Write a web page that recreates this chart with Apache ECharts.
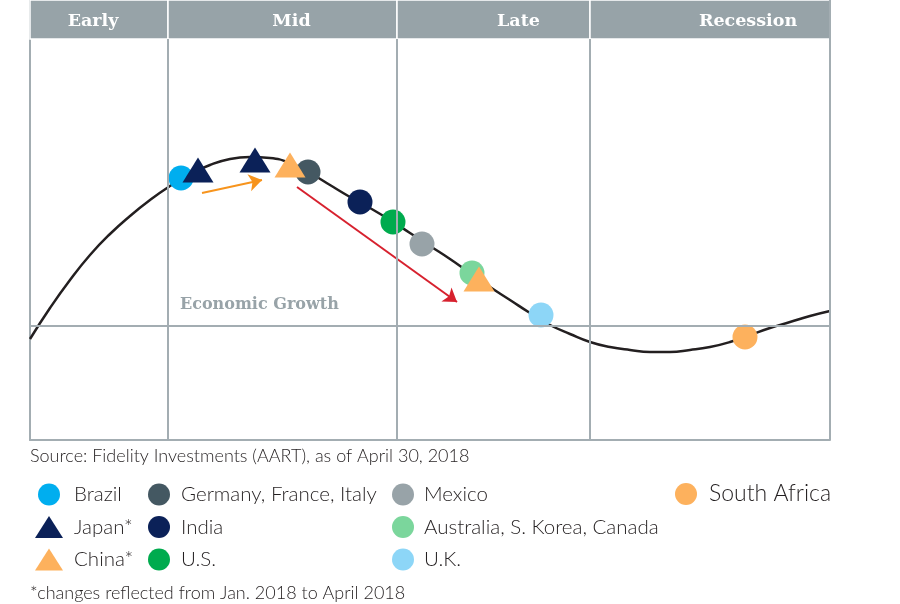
<!DOCTYPE html>
<html>
<head>
<meta charset="utf-8">
<script src="https://cdn.jsdelivr.net/npm/echarts@6/dist/echarts.min.js"></script>
<style>
html,body{margin:0;padding:0;background:#fff;}
#chart{width:900px;height:604px;}
</style>
</head>
<body>
<div id="chart"></div>
<script>
// Business-cycle curve (x: position along cycle, y: growth relative to the zero line)
const curveX = [0,20,40,60,80,100,120,140,160,180,200,220,240,260,280,300,320,340,360,380,400,420,440,460,480,500,520,540,560,580,600,620,640,660,680,700,720,740,760,780,800];
const curveY = [-13,18,46,71,92,110,126,140,152,161,167,169,168,163,153,141,129,118,106,93,80,67,53,39,26,13,1,-8,-16,-21,-24,-26,-26,-24,-21,-16,-9,-2,4,10,15];

// Cycle phases and their boundaries along x
const phases = ['Early', 'Mid', 'Late', 'Recession'];
const phaseBounds = [0, 138, 367, 560, 800];

// Country positions [x, y]
const brazil = [[151, 148]];
const japan = [[168, 156], [225, 166]];
const china = [[260, 161], [449, 47]];
const germany = [[278, 154]];
const india = [[330, 124]];
const us = [[363, 104]];
const mexico = [[392, 82]];
const australia = [[442, 53]];
const uk = [[511, 11]];
const southAfrica = [[715, -11]];

// Change arrows (Jan. 2018 -> April 2018)
const japanArrow = [[172, 133], [232, 146]];
const chinaArrow = [[267, 139], [427, 24]];

const yMin = -114, yMax = 326, headerBottom = 287;
const gridGray = '#a3adb2';
const headerGray = '#97a3a8';
const sansFont = 'Lato';
const slabFont = 'DejaVu Serif';
const textDark = '#231f20';

const chart = echarts.init(document.getElementById('chart'), null, {renderer: 'canvas'});

const labelOffsets = [[-6, 2], [9, 2], [25, 2], [38, 2]];

const dividerLines = [138, 367, 560].map(x => [{coord: [x, yMin]}, {coord: [x, headerBottom]}]);
dividerLines.push([{coord: [phaseBounds[0], 0]}, {coord: [phaseBounds[4], 0]}]);
dividerLines.push([{coord: [phaseBounds[4], yMin]}, {coord: [phaseBounds[4], yMax]}]);

function circleSeries(name, data, color) {
  return {
    name, type: 'scatter', data, symbol: 'circle', symbolSize: 25,
    itemStyle: {color, opacity: 1}, z: 4, silent: true
  };
}
function triangleSeries(name, data, color) {
  return {
    name, type: 'scatter', data, symbol: 'triangle', symbolSize: [31, 25],
    itemStyle: {color, opacity: 1}, z: 5, silent: true
  };
}

const triPath = 'path://M14,0L28,22L0,22Z';
const legendText = {color: textDark, fontFamily: sansFont, fontSize: 20.5, fontWeight: 300, lineHeight: 22};
const legendBase = {
  orient: 'vertical', selectedMode: false, itemHeight: 22, itemGap: 10.5, padding: 0
};

const option = {
  animation: false,
  backgroundColor: '#fff',
  grid: {left: 30, right: 70, top: 0, bottom: 164},
  xAxis: {
    type: 'value', min: 0, max: 800,
    axisLine: {show: true, onZero: false, lineStyle: {color: gridGray, width: 2}},
    axisTick: {show: false}, axisLabel: {show: false}, splitLine: {show: false}
  },
  yAxis: {
    type: 'value', min: yMin, max: yMax,
    axisLine: {show: true, onZero: false, lineStyle: {color: gridGray, width: 2}},
    axisTick: {show: false}, axisLabel: {show: false}, splitLine: {show: false}
  },
  title: [
    {text: 'Source: Fidelity Investments (AART), as of April 30, 2018', left: 30, top: 446, padding: 0,
     textStyle: {color: textDark, fontFamily: sansFont, fontSize: 18, fontWeight: 300, lineHeight: 20}},
    {text: '*changes reflected from Jan. 2018 to April 2018', left: 30, top: 583, padding: 0,
     textStyle: {color: textDark, fontFamily: sansFont, fontSize: 18, fontWeight: 300, lineHeight: 20}},
    {text: 'Economic Growth', left: 180, top: 296, padding: 0,
     textStyle: {color: '#98a3a8', fontFamily: slabFont, fontSize: 16, fontWeight: 'bold', lineHeight: 18}}
  ],
  legend: [
    Object.assign({}, legendBase, {left: 35, top: 483.5, itemWidth: 28,
      textStyle: Object.assign({}, legendText, {padding: [0, 0, 0, 6]}),
      data: [{name: 'Brazil', icon: 'circle'}, {name: 'Japan*', icon: triPath}, {name: 'China*', icon: triPath}]}),
    Object.assign({}, legendBase, {left: 148, top: 483.5, itemWidth: 22,
      textStyle: Object.assign({}, legendText, {padding: [0, 0, 0, 6]}),
      data: [{name: 'Germany, France, Italy', icon: 'circle'}, {name: 'India', icon: 'circle'}, {name: 'U.S.', icon: 'circle'}]}),
    Object.assign({}, legendBase, {left: 392, top: 483.5, itemWidth: 22,
      textStyle: Object.assign({}, legendText, {padding: [0, 0, 0, 5]}),
      data: [{name: 'Mexico', icon: 'circle'}, {name: 'Australia, S. Korea, Canada', icon: 'circle'}, {name: 'U.K.', icon: 'circle'}]}),
    Object.assign({}, legendBase, {left: 675, top: 482, itemWidth: 22, itemHeight: 22,
      textStyle: Object.assign({}, legendText, {fontSize: 23, lineHeight: 24, padding: [0, 0, 0, 7]}),
      data: [{name: 'South Africa', icon: 'circle'}]})
  ],
  series: [
    {
      name: 'cycle', type: 'line', smooth: 0.5, showSymbol: false, silent: true, z: 2,
      data: curveX.map((x, i) => [x, curveY[i]]),
      lineStyle: {color: '#231f20', width: 2.5},
      markLine: {
        silent: true, symbol: 'none', animation: false,
        label: {show: false},
        lineStyle: {color: gridGray, width: 2, type: 'solid'},
        data: dividerLines
      },
      markArea: {
        silent: true,
        itemStyle: {color: headerGray, borderColor: '#ffffff', borderWidth: 1.5},
        label: {show: true, position: 'inside', color: '#ffffff', fontFamily: slabFont, fontWeight: 'bold', fontSize: 17.5},
        data: phases.map((p, i) => [
          {name: p, coord: [phaseBounds[i], headerBottom], label: {offset: labelOffsets[i]}},
          {coord: [phaseBounds[i + 1], yMax]}
        ])
      }
    },
    {
      name: 'japanArrow', type: 'lines', coordinateSystem: 'cartesian2d', silent: true, z: 3,
      symbol: ['none', 'arrow'], symbolSize: 13,
      lineStyle: {color: '#f7941d', width: 2, opacity: 1},
      data: [{coords: japanArrow}]
    },
    {
      name: 'chinaArrow', type: 'lines', coordinateSystem: 'cartesian2d', silent: true, z: 3,
      symbol: ['none', 'arrow'], symbolSize: 13,
      lineStyle: {color: '#d7212e', width: 2, opacity: 1},
      data: [{coords: chinaArrow}]
    },
    circleSeries('Brazil', brazil, '#00aeef'),
    triangleSeries('Japan*', japan, '#0b2158'),
    triangleSeries('China*', china, '#fdb15d'),
    circleSeries('Germany, France, Italy', germany, '#445862'),
    circleSeries('India', india, '#0b2158'),
    circleSeries('U.S.', us, '#00ab4e'),
    circleSeries('Mexico', mexico, '#98a3a8'),
    circleSeries('Australia, S. Korea, Canada', australia, '#7bd69c'),
    circleSeries('U.K.', uk, '#8dd6f7'),
    circleSeries('South Africa', southAfrica, '#fdb15d')
  ]
};

chart.setOption(option);
</script>
</body>
</html>
